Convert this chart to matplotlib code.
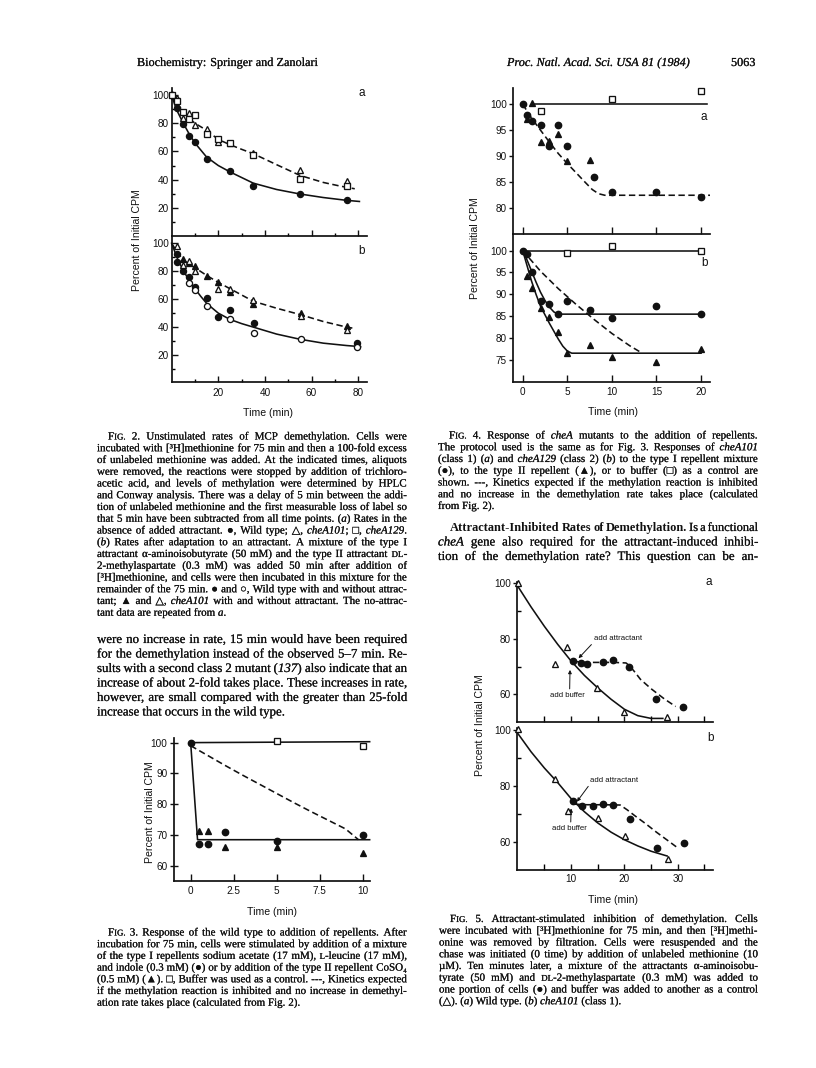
import matplotlib
matplotlib.use("Agg")
import matplotlib.pyplot as plt
import matplotlib.patheffects as pe
from matplotlib.ticker import FixedLocator, NullFormatter

plt.rcParams['font.family'] = ['Liberation Sans', 'DejaVu Sans']

# ------------------------------------------------------------------ data
# Fig. 2a  (time, min ; percent of initial CPM)
f2a_wt_t = [2.2, 5, 7.5, 10, 15, 25, 35, 55, 75]
f2a_wt_v = [90.6, 79.5, 71, 66.4, 54.6, 45.9, 35.8, 30, 25.4]
f2a_101_t = [0, 1, 2.4, 4.9, 7.5, 9.9, 15, 20, 25, 35, 55, 75]
f2a_101_v = [101, 99, 97.6, 83.5, 87, 79, 75.8, 66.4, 66, 58.8, 46.6, 38.8]
f2a_129_t = [0, 2.4, 4.9, 7.6, 10.2, 15, 20, 25, 35, 55, 75]
f2a_129_v = [100, 96, 87.8, 83, 85.9, 72.5, 68.7, 66, 57.6, 40.7, 35.3]
f2a_fit_wt_t = [0, 2, 5, 7.5, 10, 15, 20, 25, 35, 45, 55, 65, 75, 80.5]
f2a_fit_wt_v = [100, 90, 80, 72.5, 66, 56, 50, 45.5, 37.5, 33, 29.8, 27.3, 25.3, 24.5]
f2a_fit_mut_t = [0, 2, 5, 7.5, 10, 12.5, 15, 20, 25, 30, 35, 45, 55, 65, 72, 78.5]
f2a_fit_mut_v = [100, 95, 88, 83.5, 80, 77.5, 75, 68.5, 64.8, 61.5, 58.4, 50.6, 43, 38, 35.5, 33.5]

# Fig. 2b
f2b_wt_att_t = [2.2, 2.5, 4.8, 7.4, 10.1, 15.1, 20.1, 25.2, 35.5, 79.5]
f2b_wt_att_v = [92.4, 86.9, 80, 75.7, 69, 61.1, 47.5, 52.3, 42.8, 28.4]
f2b_wt_no_t = [7.4, 10.1, 15.1, 25.2, 35.5, 55.3, 79.5]
f2b_wt_no_v = [71.9, 66.6, 55, 45.9, 35.8, 31.2, 26]
f2b_101_att_t = [4.8, 7.4, 10.1, 15.1, 20.1, 25.2, 34.9, 55.3, 75]
f2b_101_att_v = [88.8, 85.7, 84, 76.6, 72.6, 64.9, 56.6, 49.9, 40.5]
f2b_101_no_t = [2.2, 4.8, 7.4, 9.9, 20.1, 25.2, 34.9, 55.3, 75]
f2b_101_no_v = [98.3, 84.3, 87.6, 80, 67.1, 67.6, 59.3, 47.6, 38.2]
f2b_fit_wt_t = [0, 2.5, 5, 7.5, 10, 12.5, 15, 20, 25, 30, 35, 45, 55, 65, 75, 81]
f2b_fit_wt_v = [100, 89, 80.5, 73.5, 67.5, 62, 57, 50, 45.5, 42.5, 40, 35, 31.3, 28.5, 26.8, 26]
f2b_fit_mut_t = [0, 2.5, 5, 7.5, 10, 15, 20, 25, 35, 45, 55, 65, 75, 78.5]
f2b_fit_mut_v = [100, 93.5, 88, 85, 82.5, 77, 72, 67.5, 58.5, 53.5, 49, 44, 40, 39]

# Fig. 3
f3_typeI_t = [0, 0.5, 1, 2, 5, 10]
f3_typeI_v = [100, 67, 67, 71.1, 68, 70]
f3_typeII_t = [0.5, 1, 2, 5, 10]
f3_typeII_v = [71.3, 71.3, 66.2, 66.2, 64.1]
f3_buf_t = [5, 10]
f3_buf_v = [100.5, 99]
f3_ctrl_t = [0, 10.4]
f3_ctrl_v = [100, 100.3]
f3_fit_t = [0, 0.4, 10.4]
f3_fit_v = [100, 68.5, 68.5]
f3_exp_t = [0, 1, 2, 3, 4, 5, 6, 7, 8, 9, 9.75]
f3_exp_v = [99, 95.8, 92.6, 89.5, 86.5, 83.5, 80.5, 77.6, 74.8, 72, 68.5]

# Fig. 4a
f4a_typeI_t = [0, 0.5, 1, 2, 3, 4, 5, 8, 10, 15, 20]
f4a_typeI_v = [100, 97.9, 96.8, 95.9, 92, 96, 91.9, 86, 83.1, 83.1, 82.1]
f4a_typeII_t = [0.5, 1, 2, 3, 4, 5, 7.5]
f4a_typeII_v = [97.1, 100.3, 92.8, 93, 94.2, 89, 89.3]
f4a_buf_t = [2, 10, 20]
f4a_buf_v = [98.7, 101, 102.6]
f4a_ctrl_t = [1.4, 20.7]
f4a_ctrl_v = [100, 100]
f4a_exp_t = [0, 1, 2, 3, 4, 5, 6, 7, 7.8, 8.5, 9.2, 21]
f4a_exp_v = [100, 97.3, 95, 92.7, 90.5, 88.6, 86.8, 85, 83.6, 82.8, 82.5, 82.5]

# Fig. 4b
f4b_typeI_t = [0, 0.5, 1, 2, 3, 4, 5, 7.5, 10, 15, 20]
f4b_typeI_v = [100, 99.2, 95.2, 88.5, 87.8, 85.5, 88.5, 86.5, 84.6, 87.4, 85.5]
f4b_typeII_t = [0.5, 1, 2, 3, 4, 5, 7.5, 10, 15, 20]
f4b_typeII_v = [94.2, 91.4, 87, 84.9, 81.4, 76.7, 78.5, 75.7, 74.7, 77.5]
f4b_buf_t = [5, 10, 20]
f4b_buf_v = [99.4, 101.1, 100]
f4b_ctrl_t = [0, 20]
f4b_ctrl_v = [100, 100]
f4b_fitI_t = [0, 0.5, 1, 1.5, 2, 2.5, 3, 3.5, 4, 20]
f4b_fitI_v = [100, 97.8, 95.3, 92.8, 90.5, 88.6, 87.1, 86, 85.5, 85.5]
f4b_fitII_t = [0, 0.5, 1, 1.5, 2, 3, 4, 4.5, 5, 5.5, 20]
f4b_fitII_v = [100, 96.5, 93, 90, 87.3, 83.4, 79.8, 78.2, 77.1, 76.6, 76.6]
f4b_exp_t = [0, 2, 4, 6, 8, 10, 12, 13.4]
f4b_exp_v = [100, 95.3, 91.3, 87.7, 84.3, 81.1, 78.3, 76.6]

# Fig. 5a
f5a_buf_t = [0, 7, 9.3, 14.9, 19.9, 27.9]
f5a_buf_v = [100.2, 70.9, 77.2, 62.4, 53.7, 51.7]
f5a_att_t = [10.4, 11.9, 12.9, 15.9, 17.8, 20.9, 25.9, 30.9]
f5a_att_v = [72, 71.4, 70.9, 71.5, 72.3, 70, 58.2, 55.3]
f5a_fit_t = [0, 2.5, 5, 7.5, 10, 12.5, 15, 17.5, 20, 22.5, 25, 27.2]
f5a_fit_v = [99, 91.5, 84.5, 78, 72, 66.8, 62.3, 58.2, 54.6, 52.3, 51.3, 51.3]
f5a_dash_t = [10.4, 12, 15, 18, 20.3, 21, 22, 23, 25, 27.5, 29.6]
f5a_dash_v = [72, 71.5, 71.5, 71.5, 71.3, 70.2, 67.9, 65.4, 62, 58.3, 55.6]

# Fig. 5b
f5b_buf_t = [0, 7, 9.5, 15.1, 20.1, 28.1]
f5b_buf_v = [100.2, 82.5, 71.1, 68.7, 62.1, 53.9]
f5b_att_t = [10.4, 12, 14.1, 15.9, 17.9, 21.1, 26.1, 31.1]
f5b_att_v = [74.8, 73, 73, 73.6, 73.2, 68.1, 58, 59.8]
f5b_fit_t = [0, 2.5, 5, 7.5, 10, 12.5, 15, 17.5, 20, 22.5, 25, 28]
f5b_fit_v = [98.8, 92.2, 86.4, 81.2, 75.5, 70.8, 66.8, 63.5, 60.8, 58.6, 56.7, 55]
f5b_dash_t = [10.7, 13, 16, 19.2, 20.5, 22, 24, 26, 28, 29.7]
f5b_dash_v = [73.5, 73.3, 73.3, 73.2, 71.5, 69.3, 66.5, 63.5, 60.7, 58.3]

# text
header_left = "Biochemistry: Springer and Zanolari"
header_mid = "_Proc. Natl. Acad. Sci. USA 81 (1984)_"
header_page = "5063"

cap2 = [
    "F^IG.^ 2.   Unstimulated rates of MCP demethylation. Cells were",
    "incubated with [³H]methionine for 75 min and then a 100-fold excess",
    "of unlabeled methionine was added. At the indicated times, aliquots",
    "were removed, the reactions were stopped by addition of trichloro-",
    "acetic acid, and levels of methylation were determined by HPLC",
    "and Conway analysis. There was a delay of 5 min between the addi-",
    "tion of unlabeled methionine and the first measurable loss of label so",
    "that 5 min have been subtracted from all time points. (_a_) Rates in the",
    "absence of added attractant. ●, Wild type; △, _cheA101_; □, _cheA129_.",
    "(_b_) Rates after adaptation to an attractant. A mixture of the type I",
    "attractant α-aminoisobutyrate (50 mM) and the type II attractant ^DL^-",
    "2-methylaspartate (0.3 mM) was added 50 min after addition of",
    "[³H]methionine, and cells were then incubated in this mixture for the",
    "remainder of the 75 min. ● and ○, Wild type with and without attrac-",
    "tant; ▲ and △, _cheA101_ with and without attractant. The no-attrac-",
    "tant data are repeated from _a_.",
]
body_left = [
    "were no increase in rate, 15 min would have been required",
    "for the demethylation instead of the observed 5–7 min. Re-",
    "sults with a second class 2 mutant (_137_) also indicate that an",
    "increase of about 2-fold takes place. These increases in rate,",
    "however, are small compared with the greater than 25-fold",
    "increase that occurs in the wild type.",
]
cap3 = [
    "F^IG.^ 3.   Response of the wild type to addition of repellents. After",
    "incubation for 75 min, cells were stimulated by addition of a mixture",
    "of the type I repellents sodium acetate (17 mM), ^L^-leucine (17 mM),",
    "and indole (0.3 mM) (●) or by addition of the type II repellent CoSO₄",
    "(0.5 mM) (▲). □, Buffer was used as a control. ---, Kinetics expected",
    "if the methylation reaction is inhibited and no increase in demethyl-",
    "ation rate takes place (calculated from Fig. 2).",
]
cap4 = [
    "F^IG.^ 4.   Response of _cheA_ mutants to the addition of repellents.",
    "The protocol used is the same as for Fig. 3. Responses of _cheA101_",
    "(class 1) (_a_) and _cheA129_ (class 2) (_b_) to the type I repellent mixture",
    "(●), to the type II repellent (▲), or to buffer (□) as a control are",
    "shown. ---, Kinetics expected if the methylation reaction is inhibited",
    "and no increase in the demethylation rate takes place (calculated",
    "from Fig. 2).",
]
body_right = [
    "*Attractant-Inhibited Rates of Demethylation.* Is a functional",
    "_cheA_ gene also required for the attractant-induced inhibi-",
    "tion of the demethylation rate? This question can be an-",
]
cap5 = [
    "F^IG.^ 5.   Attractant-stimulated inhibition of demethylation. Cells",
    "were incubated with [³H]methionine for 75 min, and then [³H]methi-",
    "onine was removed by filtration. Cells were resuspended and the",
    "chase was initiated (0 time) by addition of unlabeled methionine (10",
    "µM). Ten minutes later, a mixture of the attractants α-aminoisobu-",
    "tyrate (50 mM) and ^DL^-2-methylaspartate (0.3 mM) was added to",
    "one portion of cells (●) and buffer was added to another as a control",
    "(△). (_a_) Wild type. (_b_) _cheA101_ (class 1).",
]
ylab = "Percent of Initial CPM"
xlab = "Time (min)"

# ------------------------------------------------------------------ setup
W, H = 816, 1068
fig = plt.figure(figsize=(W / 100, H / 100), dpi=100)
fig.patch.set_facecolor('white')
renderer = fig.canvas.get_renderer()
SERIF = ['Liberation Serif', 'DejaVu Sans']
INK = '#111111'
BOLDEN = [pe.withStroke(linewidth=0.12, foreground=INK)]


def fx(x):
    return x / W


def fy(y):
    return 1 - y / H


def add_ax(x0, y0, x1, y1, xlim, ylim):
    ax = fig.add_axes([x0 / W, 1 - y1 / H, (x1 - x0) / W, (y1 - y0) / H])
    ax.set_xlim(*xlim)
    ax.set_ylim(*ylim)
    ax.patch.set_visible(False)
    for s in ('top', 'right'):
        ax.spines[s].set_visible(False)
    for s in ('left', 'bottom'):
        ax.spines[s].set_linewidth(1.25)
        ax.spines[s].set_color(INK)
    ax.tick_params(colors=INK, labelsize=7.2, width=1.0, length=4, pad=2)
    ax.tick_params(which='minor', width=1.0, length=2.5)
    return ax


def pts(ax, t, v, marker, filled, ms):
    ax.plot(t, v, linestyle='none', marker=marker, ms=ms,
            mfc=INK if filled else 'white', mec=INK, mew=0.95,
            clip_on=False, zorder=4)


def solid(ax, t, v):
    ax.plot(t, v, '-', color=INK, lw=1.15, clip_on=False, zorder=2)


def dashed(ax, t, v):
    ax.plot(t, v, color=INK, lw=1.15, linestyle=(0, (4, 2.2)),
            clip_on=False, zorder=2)


# ------------------------------------------------------------------ text helpers
def parse_line(s):
    words = []
    it = bd = sm = False
    for raw in s.split():
        segs = []
        cur = ''
        for ch in raw:
            if ch in '_*^':
                if cur:
                    segs.append((cur, it, bd, sm))
                    cur = ''
                if ch == '_':
                    it = not it
                elif ch == '*':
                    bd = not bd
                else:
                    sm = not sm
            else:
                cur += ch
        if cur:
            segs.append((cur, it, bd, sm))
        words.append(segs)
    return words


def draw_line(s, x0, x1, yb, size, justify, min_gap=2.2):
    words = parse_line(s)
    placed = []
    for segs in words:
        items = []
        for txt, it, bd, sm in segs:
            fs = size * (0.8 if sm else 1.0)
            t = fig.text(0, 0, txt, fontsize=fs,
                         family=SERIF, style='italic' if it else 'normal',
                         weight='bold' if bd else 'normal',
                         ha='left', va='baseline', color=INK)
            if not bd:
                t.set_path_effects(BOLDEN)
            items.append([t, fs, 0.0])
        placed.append(items)

    def measure():
        tot = 0.0
        for items in placed:
            for it_ in items:
                it_[2] = it_[0].get_window_extent(renderer).width
                tot += it_[2]
        return tot

    total = measure()
    n = len(words) - 1
    avail = x1 - x0
    need = total + max(n, 0) * min_gap
    if need > avail and total > 0:
        f = (avail - max(n, 0) * min_gap) / total
        for items in placed:
            for it_ in items:
                it_[0].set_fontsize(it_[1] * f)
        total = measure()
    space = size * 100 / 72 * 0.25
    gap = (avail - total) / n if (justify and n > 0) else space
    x = x0
    for items in placed:
        for t, fs, w in items:
            t.set_position((fx(x), fy(yb)))
            x += w
        x += gap


def paragraph(lines, x0, x1, yb0, dy, size, indent=0, last_ragged=True):
    for i, line in enumerate(lines):
        xs = x0 + (indent if i == 0 else 0)
        just = not (last_ragged and i == len(lines) - 1)
        draw_line(line, xs, x1, yb0 + i * dy, size, just)


# header
draw_line(header_left, 137, 400, 66, 8.8, False)
draw_line(header_mid, 507, 760, 66, 8.8, False)
draw_line(header_page, 731, 800, 66, 8.8, False)

# captions / body
paragraph(cap2, 97, 407, 439.5, 11.75, 7.9, indent=11)
paragraph(body_left, 97, 407, 643, 14.5, 9.3)
paragraph(cap3, 97, 407, 935.5, 11.7, 7.9, indent=11)
paragraph(cap4, 438, 758, 438.5, 11.75, 7.9, indent=11)
paragraph(body_right, 438, 758, 531, 14.5, 9.3, indent=12, last_ragged=False)
paragraph(cap5, 439, 758, 922, 11.75, 7.9, indent=11)

# ------------------------------------------------------------------ Fig. 2
ax2a = add_ax(171.6, 88, 367, 236, (0, 83.75), (0, 105))
ax2b = add_ax(171.6, 236, 367, 382, (0, 83.75), (0.7, 105.2))
for ax in (ax2a, ax2b):
    ax.yaxis.set_major_locator(FixedLocator([20, 40, 60, 80, 100]))
    ax.yaxis.set_minor_locator(FixedLocator([10, 30, 50, 70, 90]))
    ax.xaxis.set_major_locator(FixedLocator([20, 40, 60, 80]))
    ax.xaxis.set_minor_locator(FixedLocator([10, 30, 50, 70]))
    ax.tick_params(which='both', direction='in')
ax2a.xaxis.set_major_formatter(NullFormatter())
ax2b.tick_params(axis='x', pad=4)

pts(ax2a, f2a_wt_t, f2a_wt_v, 'o', True, 4.4)
pts(ax2a, f2a_101_t, f2a_101_v, '^', False, 4.8)
pts(ax2a, f2a_129_t, f2a_129_v, 's', False, 4.3)
solid(ax2a, f2a_fit_wt_t, f2a_fit_wt_v)
dashed(ax2a, f2a_fit_mut_t, f2a_fit_mut_v)

pts(ax2b, f2b_wt_att_t, f2b_wt_att_v, 'o', True, 4.4)
pts(ax2b, f2b_wt_no_t, f2b_wt_no_v, 'o', False, 4.4)
pts(ax2b, f2b_101_att_t, f2b_101_att_v, '^', True, 4.8)
pts(ax2b, f2b_101_no_t, f2b_101_no_v, '^', False, 4.8)
solid(ax2b, f2b_fit_wt_t, f2b_fit_wt_v)
dashed(ax2b, f2b_fit_mut_t, f2b_fit_mut_v)

fig.text(fx(362), fy(93), 'a', fontsize=8.5, ha='center', va='center', color=INK)
fig.text(fx(362), fy(251), 'b', fontsize=8.5, ha='center', va='center', color=INK)
fig.text(fx(137), fy(240), ylab, rotation=90, fontsize=7.6, ha='center', va='center', color=INK)
fig.text(fx(268), fy(413), xlab, fontsize=7.6, ha='center', va='center', color=INK)

# ------------------------------------------------------------------ Fig. 4
ax4a = add_ax(513.3, 88, 710, 234.3, (-1.05, 21.0), (75.0, 103.1))
ax4b = add_ax(513.3, 234.3, 710, 381.7, (-1.05, 21.0), (70.1, 103.7))
ax4a.yaxis.set_major_locator(FixedLocator([80, 85, 90, 95, 100]))
ax4b.yaxis.set_major_locator(FixedLocator([75, 80, 85, 90, 95, 100]))
for ax in (ax4a, ax4b):
    ax.xaxis.set_major_locator(FixedLocator([0, 5, 10, 15, 20]))
    ax.tick_params(axis='y', direction='out', length=3, pad=1.5)
    ax.tick_params(axis='x', direction='in', length=5)
ax4a.xaxis.set_major_formatter(NullFormatter())
ax4b.tick_params(axis='x', pad=4)

solid(ax4a, f4a_ctrl_t, f4a_ctrl_v)
dashed(ax4a, f4a_exp_t, f4a_exp_v)
pts(ax4a, f4a_typeI_t, f4a_typeI_v, 'o', True, 4.6)
pts(ax4a, f4a_typeII_t, f4a_typeII_v, '^', True, 4.8)
pts(ax4a, f4a_buf_t, f4a_buf_v, 's', False, 4.3)

solid(ax4b, f4b_ctrl_t, f4b_ctrl_v)
solid(ax4b, f4b_fitI_t, f4b_fitI_v)
solid(ax4b, f4b_fitII_t, f4b_fitII_v)
dashed(ax4b, f4b_exp_t, f4b_exp_v)
pts(ax4b, f4b_typeI_t, f4b_typeI_v, 'o', True, 4.6)
pts(ax4b, f4b_typeII_t, f4b_typeII_v, '^', True, 4.8)
pts(ax4b, f4b_buf_t, f4b_buf_v, 's', False, 4.3)

fig.text(fx(704), fy(117), 'a', fontsize=8.5, ha='center', va='center', color=INK)
fig.text(fx(705), fy(263), 'b', fontsize=8.5, ha='center', va='center', color=INK)
fig.text(fx(475), fy(248), ylab, rotation=90, fontsize=7.6, ha='center', va='center', color=INK)
fig.text(fx(612.7), fy(412.3), xlab, fontsize=7.6, ha='center', va='center', color=INK)

# ------------------------------------------------------------------ Fig. 3
ax3 = add_ax(174.3, 738, 370, 880.7, (-0.95, 10.42), (55.2, 101.5))
ax3.yaxis.set_major_locator(FixedLocator([60, 70, 80, 90, 100]))
ax3.xaxis.set_major_locator(FixedLocator([0, 2.5, 5, 7.5, 10]))
ax3.set_xticklabels(['0', '2.5', '5', '7.5', '10'])
ax3.tick_params(axis='y', direction='inout', length=6, pad=2)
ax3.tick_params(axis='x', direction='in', length=5, pad=4)

solid(ax3, f3_ctrl_t, f3_ctrl_v)
solid(ax3, f3_fit_t, f3_fit_v)
dashed(ax3, f3_exp_t, f3_exp_v)
pts(ax3, f3_typeI_t, f3_typeI_v, 'o', True, 4.6)
pts(ax3, f3_typeII_t, f3_typeII_v, '^', True, 4.8)
pts(ax3, f3_buf_t, f3_buf_v, 's', False, 4.1)

fig.text(fx(150), fy(812), ylab, rotation=90, fontsize=7.6, ha='center', va='center', color=INK)
fig.text(fx(271.7), fy(911.7), xlab, fontsize=7.6, ha='center', va='center', color=INK)

# ------------------------------------------------------------------ Fig. 5
ax5a = add_ax(517.3, 582, 713, 722.3, (-0.08, 36.6), (49.9, 100.5))
ax5b = add_ax(517.3, 728, 713, 870, (-0.08, 36.6), (50, 100.7))
for ax in (ax5a, ax5b):
    ax.yaxis.set_major_locator(FixedLocator([60, 80, 100]))
    ax.yaxis.set_minor_locator(FixedLocator([70, 90]))
    ax.xaxis.set_major_locator(FixedLocator([10, 20, 30]))
    ax.xaxis.set_minor_locator(FixedLocator([5, 15, 25, 35]))
    ax.tick_params(axis='y', which='major', direction='out', length=3, pad=1.5)
    ax.tick_params(axis='y', which='minor', direction='in', length=3)
    ax.tick_params(axis='x', which='both', direction='in', length=4)
ax5a.xaxis.set_major_formatter(NullFormatter())
ax5b.tick_params(axis='x', pad=3)

solid(ax5a, f5a_fit_t, f5a_fit_v)
dashed(ax5a, f5a_dash_t, f5a_dash_v)
pts(ax5a, f5a_buf_t, f5a_buf_v, '^', False, 4.8)
pts(ax5a, f5a_att_t, f5a_att_v, 'o', True, 4.6)

solid(ax5b, f5b_fit_t, f5b_fit_v)
dashed(ax5b, f5b_dash_t, f5b_dash_v)
pts(ax5b, f5b_buf_t, f5b_buf_v, '^', False, 4.8)
pts(ax5b, f5b_att_t, f5b_att_v, 'o', True, 4.6)

arrow = dict(arrowstyle='-|>', lw=0.7, color=INK, mutation_scale=5,
             shrinkA=0, shrinkB=0)
ax5a.annotate('add attractant', xy=(11.4, 73), xytext=(14.3, 80.2),
              fontsize=5.6, ha='left', va='center', color=INK,
              arrowprops=dict(arrow, relpos=(0, 0)))
ax5a.annotate('add buffer', xy=(9.8, 68.8), xytext=(9.4, 59.7),
              fontsize=5.6, ha='center', va='center', color=INK,
              arrowprops=dict(arrow, relpos=(0.55, 1)))
ax5b.annotate('add attractant', xy=(11.1, 74.4), xytext=(13.6, 82.1),
              fontsize=5.6, ha='left', va='center', color=INK,
              arrowprops=dict(arrow, relpos=(0, 0)))
ax5b.annotate('add buffer', xy=(10.0, 72.0), xytext=(9.6, 64.9),
              fontsize=5.6, ha='center', va='center', color=INK,
              arrowprops=dict(arrow, relpos=(0.55, 1)))

fig.text(fx(709), fy(582), 'a', fontsize=8.5, ha='center', va='center', color=INK)
fig.text(fx(711), fy(738), 'b', fontsize=8.5, ha='center', va='center', color=INK)
fig.text(fx(480), fy(725), ylab, rotation=90, fontsize=7.6, ha='center', va='center', color=INK)
fig.text(fx(613.3), fy(900), xlab, fontsize=7.6, ha='center', va='center', color=INK)

fig.savefig('out.png', dpi=100, facecolor='white')
